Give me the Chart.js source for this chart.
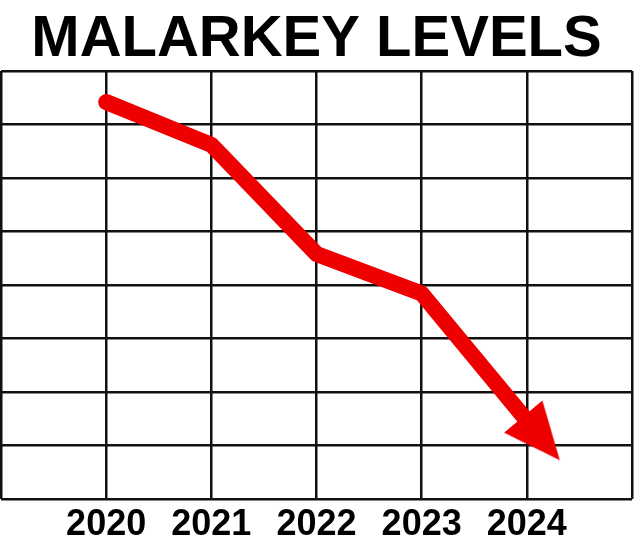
<!DOCTYPE html>
<html>
<head>
<meta charset="utf-8">
<script src="https://cdn.jsdelivr.net/npm/chart.js@4"></script>
<style>
  html, body { margin: 0; padding: 0; background: #fff; }
  #wrap { width: 640px; height: 552px; }
</style>
</head>
<body>
<div id="wrap"><canvas id="myChart"></canvas></div>
<script>
  // data
  const years = [2020, 2021, 2022, 2023, 2024.14];
  const levels = [7.42, 6.62, 4.58, 3.84, 1.13];
  const tickYears = [2020, 2021, 2022, 2023, 2024];

  const RED = '#ee0000';

  // arrow head, pointing up, used as the last point's style
  const head = document.createElement('canvas');
  head.width = 50;
  head.height = 57;
  const hctx = head.getContext('2d');
  hctx.fillStyle = RED;
  hctx.beginPath();
  hctx.moveTo(25, 0);
  hctx.lineTo(50, 57);
  hctx.lineTo(0, 57);
  hctx.closePath();
  hctx.fill();

  const ctx = document.getElementById('myChart').getContext('2d');

  const points = years.map((x, i) => ({x: x, y: levels[i]}));
  const last = points.length - 1;

  const myChart = new Chart(ctx, {
    type: 'line',
    data: {
      datasets: [{
        data: points,
        borderColor: RED,
        backgroundColor: RED,
        borderWidth: 16,
        borderCapStyle: 'round',
        borderJoinStyle: 'round',
        tension: 0,
        pointStyle: points.map((p, i) => i === last ? head : 'circle'),
        pointRadius: points.map((p, i) => i === last ? 28 : 0),
        pointRotation: points.map((p, i) => i === last ? 140 : 0),
        pointBorderWidth: 0,
        clip: false,
      }],
    },
    options: {
      responsive: true,
      maintainAspectRatio: false,
      animation: false,
      events: [],
      layout: {
        autoPadding: false,
        padding: {left: 1, right: 8, top: 0, bottom: 0}
      },
      plugins: {
        legend: { display: false },
        tooltip: { enabled: false },
        title: {
          display: true,
          text: 'MALARKEY LEVELS',
          color: '#000',
          font: { family: 'Liberation Sans', size: 58, weight: 'bold', lineHeight: 1.0 },
          padding: { top: 11, bottom: 2 }
        }
      },
      scales: {
        x: {
          type: 'linear',
          min: 2019,
          max: 2025,
          border: { display: false },
          grid: { color: '#111', lineWidth: 2.5, drawTicks: false },
          ticks: {
            stepSize: 1,
            padding: 10,
            maxRotation: 0,
            autoSkip: false,
            color: '#000',
            font: { family: 'Liberation Sans', size: 36, weight: 'bold', lineHeight: 0.92 },
            callback: (v) => tickYears.includes(v) ? String(v) : ''
          },
          afterFit: (s) => { s.paddingLeft = 0; s.paddingRight = 0; }
        },
        y: {
          min: 0,
          max: 8,
          border: { display: false },
          grid: { color: '#111', lineWidth: 2.5, drawTicks: false },
          ticks: { display: false, stepSize: 1 },
          afterFit: (s) => { s.width = 0; }
        }
      }
    }
  });
</script>
</body>
</html>
